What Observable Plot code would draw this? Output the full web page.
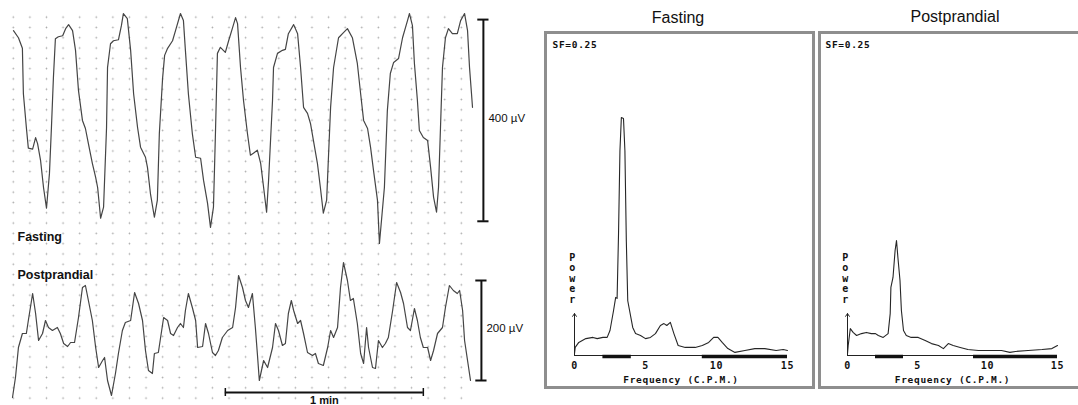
<!DOCTYPE html>
<html><head><meta charset="utf-8">
<script src="https://cdn.jsdelivr.net/npm/d3@7"></script>
<script src="https://cdn.jsdelivr.net/npm/@observablehq/plot@0.6"></script>
<style>
html,body{margin:0;padding:0;background:#fff;}
#fig{position:relative;width:1078px;height:405px;overflow:hidden;background:#fff;font-family:"Liberation Sans",Arial,sans-serif;}
.abs{position:absolute;}
#grid{left:4.7px;top:11.85px;width:470px;height:392px;background-image:radial-gradient(circle at center,#a8a8a8 0,#a8a8a8 0.7px,rgba(255,255,255,0) 1.1px);background-size:16.6px 10.3px;}
.frame{box-sizing:border-box;border:3px solid #8e8e8e;}
.title{font-size:16px;line-height:16px;text-align:center;width:200px;color:#111;}
#specA text,#specB text{letter-spacing:0.7px;}
g[aria-label="sf"] text{letter-spacing:1.3px;}
</style></head><body>
<div id="fig">
 <div id="grid" class="abs"></div>
 <div id="traceA" class="abs" style="left:0;top:0;width:500px;height:250px"></div>
 <div id="traceB" class="abs" style="left:0;top:250px;width:500px;height:155px"></div>
 <div class="abs frame" style="left:544px;top:31px;width:271px;height:358px"></div>
 <div class="abs frame" style="left:818px;top:31px;width:270px;height:358px"></div>
 <div id="specA" class="abs" style="left:546px;top:33px;width:267px;height:355px"></div>
 <div id="specB" class="abs" style="left:820px;top:33px;width:258px;height:355px"></div>
 <div class="abs title" style="left:578px;top:10px">Fasting</div>
 <div class="abs title" style="left:855px;top:9px">Postprandial</div>
</div>
<script>
// ---- data (time in s, amplitude in µV; frequency in cpm, relative power) ----
const recordLabels = ["Fasting", "Postprandial"];
const amplitudeBars = [400, 200];   // µV
const timeBar = 60;                 // s (1 min)
const timeBarLabel = "1 min";
const freqTicks = [0, 5, 10, 15];
const analysisBands = [[2, 4], [9, 15]];
const sfLabel = "SF=0.25";
const powerLabel = "Power";
const freqLabel = "Frequency (C.P.M.)";

const fastingTrace = [[0.3,178],[1.8,164],[3.0,143],[3.3,53],[4.2,-14],[4.8,-55],[6.1,-57],[7.0,-34],[7.6,-46],[8.5,-79],[9.4,-133],[10.3,-174],[11.2,-105],[11.8,-14],[12.4,85],[13.0,162],[13.9,166],[15.2,168],[16.1,182],[17.0,190],[18.2,178],[19.1,139],[20.0,59],[21.2,0],[22.1,-16],[23.0,-46],[24.2,-85],[25.2,-113],[25.8,-133],[26.7,-194],[27.6,-172],[28.5,-14],[28.8,105],[29.7,152],[30.6,158],[32.1,160],[33.0,188],[33.6,212],[34.8,202],[35.8,139],[36.7,53],[37.9,-14],[38.8,-53],[40.3,-73],[40.9,-93],[41.8,-145],[43.0,-192],[43.9,-158],[44.5,-26],[45.5,85],[46.1,129],[47.0,143],[48.5,158],[49.4,178],[50.9,212],[51.8,198],[52.4,139],[53.3,53],[54.5,-26],[55.5,-73],[57.0,-75],[57.9,-119],[59.1,-164],[60.0,-212],[60.9,-172],[61.5,-26],[62.1,133],[63.0,145],[64.5,135],[65.5,158],[66.7,184],[67.6,204],[68.2,192],[69.1,105],[70.0,40],[71.2,-26],[72.1,-69],[73.0,-65],[74.2,-59],[75.2,-85],[76.1,-133],[77.0,-182],[77.6,-119],[78.8,40],[79.1,105],[80.3,133],[81.8,139],[82.7,141],[83.6,172],[85.2,190],[86.4,172],[87.3,105],[88.2,26],[89.4,14],[90.3,-6],[91.2,-40],[92.4,-85],[93.3,-133],[94.2,-184],[95.2,-158],[95.8,-65],[96.4,26],[97.3,105],[98.8,164],[100.3,174],[101.5,182],[103.0,164],[104.5,113],[105.5,53],[106.4,0],[107.6,-16],[108.5,-53],[109.4,-99],[110.6,-158],[111.2,-244],[112.7,-133],[113.6,20],[114.5,93],[115.5,115],[117.0,123],[118.2,164],[119.7,198],[120.3,212],[121.2,188],[121.8,113],[122.7,40],[123.3,-20],[124.5,-34],[125.8,-40],[126.7,-93],[127.6,-152],[128.5,-182],[129.1,-133],[129.7,-14],[130.3,105],[131.2,164],[132.1,182],[133.3,172],[134.8,172],[135.8,198],[137.0,212],[137.9,178],[138.5,105],[139.1,53],[139.4,26]];

const postprandialTrace = [[0,-134],[0.9,-94],[1.8,-34],[3.0,-6],[4.2,-6],[4.8,20],[6.1,74],[7.0,34],[7.9,-20],[9.1,-6],[10.0,20],[10.9,6],[12.1,0],[13.6,6],[14.5,-6],[15.5,-26],[16.7,-32],[17.6,-24],[18.8,-24],[20.0,26],[21.2,86],[22.1,90],[23.0,60],[24.2,20],[25.2,-34],[26.1,-74],[27.3,-60],[27.9,-54],[28.8,-100],[30.0,-130],[31.2,-86],[32.1,-46],[33.3,0],[34.2,16],[35.8,20],[37.0,76],[38.2,54],[39.4,20],[40.3,-40],[41.2,-80],[42.4,-86],[43.0,-46],[44.2,-44],[45.8,26],[47.0,20],[47.9,-6],[48.8,-10],[50.0,6],[50.9,14],[51.8,6],[52.4,40],[53.3,74],[54.5,46],[55.5,20],[56.1,-34],[57.6,-32],[58.5,14],[59.4,-6],[60.6,-44],[61.5,-50],[62.4,-40],[63.6,-14],[65.2,0],[66.7,6],[67.6,46],[68.5,110],[69.7,86],[70.6,60],[71.5,46],[72.7,74],[73.6,6],[74.2,-46],[74.8,-100],[76.1,-60],[77.3,-74],[78.8,-34],[79.7,14],[80.6,0],[81.8,-30],[82.7,-26],[83.6,34],[84.5,60],[85.2,40],[86.4,14],[87.3,20],[88.2,-6],[89.4,-44],[90.9,-50],[91.8,-46],[92.7,-66],[94.2,-70],[95.5,-34],[96.4,0],[97.3,-14],[98.5,6],[99.4,86],[100.3,136],[101.5,100],[102.4,60],[103.3,64],[104.5,14],[105.5,-46],[106.4,-66],[107.3,6],[107.9,-34],[109.1,-74],[110.0,-76],[110.9,-20],[112.1,-34],[113.0,-26],[113.9,-14],[115.2,40],[116.4,96],[117.6,76],[118.5,54],[119.7,6],[120.6,0],[121.8,44],[122.7,20],[123.6,-14],[124.5,-34],[125.8,-34],[126.7,-60],[127.6,-40],[128.8,-6],[130.3,6],[131.2,46],[132.4,90],[133.6,80],[134.8,74],[135.5,80],[136.4,40],[137.0,-20],[137.9,-60],[138.8,-100]];

const fastingSpectrum = [[0,0.8],[0.05,3.4],[0.3,5.5],[0.8,7.1],[1.3,7.6],[1.6,7.1],[2.0,7.6],[2.3,7.6],[2.5,10.5],[2.75,18.9],[2.9,24.4],[3.0,24.0],[3.1,51],[3.2,86],[3.3,100],[3.45,99.6],[3.55,86],[3.65,48],[3.75,23],[4.1,11.8],[4.3,9.2],[4.65,8.4],[5.0,7.1],[5.35,7.6],[5.7,9.2],[6.05,12.6],[6.3,13.4],[6.5,12.6],[6.75,13.9],[7.0,9.2],[7.3,4.2],[7.8,3.4],[8.5,3.4],[9.0,4.2],[9.45,5.5],[9.8,7.6],[10.1,7.6],[10.4,5.5],[10.8,2.9],[11.3,1.3],[12.0,2.1],[12.7,2.9],[13.4,2.9],[14.2,2.1],[14.7,2.5],[15,2.1]];

const postprandialSpectrum = [[0,0.8],[0.05,4.2],[0.2,11.3],[0.4,9.7],[0.65,8.4],[1.0,9.2],[1.35,9.7],[1.7,9.2],[2.0,9.2],[2.2,8.4],[2.55,7.6],[2.9,9.2],[3.05,17.6],[3.1,28.6],[3.25,32.8],[3.4,44.1],[3.5,48.3],[3.6,41.2],[3.75,31.5],[3.85,18.9],[4.0,10.5],[4.2,8.4],[4.55,7.6],[5.05,7.6],[5.55,6.3],[6.0,5.0],[6.5,4.2],[6.85,2.9],[7.2,5.0],[7.55,4.2],[8.05,3.4],[8.6,2.5],[9.35,2.1],[10.3,2.1],[11.0,2.1],[11.6,1.3],[12.0,1.7],[12.9,2.1],[13.9,2.5],[14.6,2.9],[15,4.2]];

// ---- drawing ----
const sans = "Liberation Sans, Arial, sans-serif";
const mono = "DejaVu Sans Mono, Liberation Mono, monospace";
const tEnd = d3.max(fastingTrace, d => d[0]);
const traceX = {domain: [0, tEnd], axis: null};

function ampBar(amp, t) {
  return [
    Plot.ruleX([amp], {x: t, y1: d => -d / 2, y2: d => d / 2, stroke: "#111", strokeWidth: 2}),
    Plot.ruleY([-amp / 2, amp / 2], {y: d => d, x1: t - 1.7, x2: t + 1.7, stroke: "#111", strokeWidth: 2}),
    Plot.text([amp], {x: t, y: 0, text: d => `${d} µV`, textAnchor: "start", dx: 5, dy: -2, fontSize: 11.5, fontFamily: sans, fill: "#111"})
  ];
}

const plotA = Plot.plot({
  width: 500, height: 250, marginLeft: 12, marginRight: 28, marginTop: 9, marginBottom: 4,
  style: {background: "transparent", overflow: "visible", fontFamily: sans},
  x: traceX, y: {domain: [-250, 220], axis: null},
  marks: [
    Plot.line(fastingTrace, {x: d => d[0], y: d => d[1], stroke: "#454545", strokeWidth: 1.2}),
    ...ampBar(amplitudeBars[0], tEnd + 3.3),
    Plot.text([recordLabels[0]], {text: d => d, frameAnchor: "bottom-left", textAnchor: "start", dx: 5, dy: -6, fontSize: 12.5, fontWeight: "bold", fontFamily: sans, fill: "#111"})
  ]
});
document.getElementById("traceA").append(plotA);

const tbStart = 64.5;
const plotB = Plot.plot({
  width: 500, height: 155, marginLeft: 12, marginRight: 28, marginTop: 5, marginBottom: 0,
  style: {background: "transparent", overflow: "visible", fontFamily: sans},
  x: traceX, y: {domain: [-150, 150], axis: null},
  marks: [
    Plot.line(postprandialTrace, {x: d => d[0], y: d => d[1], stroke: "#454545", strokeWidth: 1.2}),
    ...ampBar(amplitudeBars[1], tEnd + 2.7),
    Plot.ruleY([timeBar], {y: -124, x1: tbStart, x2: d => tbStart + d, stroke: "#111", strokeWidth: 2}),
    Plot.ruleX([tbStart, tbStart + timeBar], {x: d => d, y1: -132, y2: -116, stroke: "#111", strokeWidth: 1.5}),
    Plot.text([timeBarLabel], {text: d => d, x: tbStart + timeBar / 2, y: -124, dy: 8, fontSize: 11, fontWeight: "bold", fontFamily: sans, fill: "#111"}),
    Plot.text([recordLabels[1]], {text: d => d, frameAnchor: "top-left", textAnchor: "start", dx: 5, dy: 15, fontSize: 12.5, fontWeight: "bold", fontFamily: sans, fill: "#111"})
  ]
});
document.getElementById("traceB").append(plotB);

function specPlot(data, width, ml, mr) {
  return Plot.plot({
    width, height: 355, marginLeft: ml, marginRight: mr, marginTop: 12.6, marginBottom: 33,
    style: {background: "transparent", overflow: "visible", fontFamily: mono, fontSize: "10px", fontWeight: "bold", color: "#111"},
    x: {domain: [0, 15], ticks: freqTicks, tickSize: 0, tickPadding: 6, label: null, tickFormat: d => String(d)},
    y: {domain: [0, 130], axis: null},
    marks: [
      Plot.ruleY([0], {x1: 0, x2: 15, stroke: "#222", strokeWidth: 1}),
      Plot.ruleY(analysisBands, {y: 0, x1: d => d[0], x2: d => d[1], stroke: "#111", strokeWidth: 3.5, dy: 1}),
      Plot.line(data, {x: d => d[0], y: d => d[1], stroke: "#262626", strokeWidth: 1.1}),
      Plot.arrow([0], {x1: 0, x2: 0, y1: 0, y2: 17.6, headLength: 5, headAngle: 70, stroke: "#222", strokeWidth: 1}),
      Plot.text([powerLabel], {x: 0, y: 32.4, text: d => d.split("").join("\n"), lineHeight: 1.05, fontSize: 10, fontWeight: "bold", fontFamily: mono, dx: -2, fill: "#111"}),
      Plot.text([freqLabel], {text: d => d, frameAnchor: "bottom", dy: 27, fontSize: 9.5, fontWeight: "bold", fontFamily: mono, fill: "#111"}),
      Plot.text([sfLabel], {text: d => d, frameAnchor: "top-left", textAnchor: "start", dx: -22, dy: -5, fontSize: 9.5, fontWeight: "bold", fontFamily: mono, fill: "#111", ariaLabel: "sf"})
    ]
  });
}
document.getElementById("specA").append(specPlot(fastingSpectrum, 267, 28, 26));
document.getElementById("specB").append(specPlot(postprandialSpectrum, 258, 27, 21));
</script>
</body></html>
